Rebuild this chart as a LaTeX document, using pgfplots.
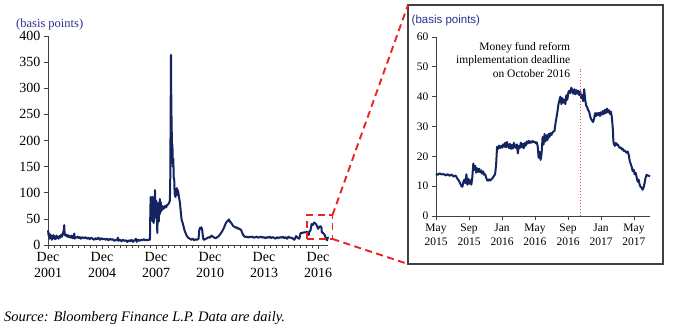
\documentclass[border=0pt]{standalone}
\usepackage{fontspec}
\setmainfont{Liberation Serif}
\newfontfamily\arialfont{Liberation Sans}
\usepackage{pgfplots}
\usepackage{pgfplotstable}
\pgfplotsset{compat=1.18}
\definecolor{navy}{RGB}{20,36,96}
\definecolor{lblblue}{RGB}{45,45,150}
\definecolor{dred}{RGB}{235,35,35}
\definecolor{lred}{RGB}{240,70,70}

% x = calendar year (decimal); plotted as years after 2000
\pgfplotstableread{
x y
2001.92 28
2001.95 18
2001.98 22
2002.01 12
2002.04 20
2002.07 14
2002.10 18
2002.13 10
2002.16 16
2002.19 12
2002.22 19
2002.25 13
2002.28 17
2002.31 11
2002.34 15
2002.37 12
2002.40 18
2002.43 14
2002.46 16
2002.50 12
2002.55 17
2002.60 14
2002.65 20
2002.70 16
2002.75 22
2002.80 30
2002.82 38
2002.84 22
2002.88 18
2002.93 20
2002.98 16
2003.03 19
2003.08 15
2003.13 17
2003.18 14
2003.23 18
2003.28 13
2003.33 16
2003.38 22
2003.40 12
2003.45 15
2003.50 14
2003.56 16
2003.62 13
2003.68 15
2003.74 12
2003.80 15
2003.86 14
2003.92 13
2004.00 15
2004.08 12
2004.16 14
2004.24 11
2004.32 14
2004.40 12
2004.48 10
2004.56 13
2004.64 11
2004.72 14
2004.80 10
2004.88 13
2004.96 11
2005.04 12
2005.12 10
2005.20 12
2005.28 9
2005.36 12
2005.44 10
2005.52 11
2005.60 8
2005.68 10
2005.76 9
2005.80 14
2005.84 8
2005.92 10
2006.00 7
2006.08 10
2006.16 8
2006.24 9
2006.32 6
2006.40 9
2006.48 7
2006.56 10
2006.64 6
2006.72 9
2006.80 12
2006.84 6
2006.92 10
2007.00 8
2007.08 10
2007.16 9
2007.24 11
2007.32 9
2007.40 10
2007.48 9
2007.55 11
2007.58 10
2007.60 60
2007.62 92
2007.64 55
2007.66 80
2007.69 48
2007.71 92
2007.73 45
2007.76 70
2007.79 42
2007.81 75
2007.84 88
2007.86 105
2007.88 70
2007.90 52
2007.93 85
2007.96 60
2007.99 23
2008.01 55
2008.04 80
2008.07 45
2008.10 65
2008.13 88
2008.15 60
2008.18 82
2008.21 65
2008.25 75
2008.29 68
2008.32 73
2008.36 70
2008.42 75
2008.48 72
2008.54 77
2008.60 78
2008.66 82
2008.69 86
2008.71 130
2008.73 250
2008.75 364
2008.76 300
2008.78 240
2008.80 200
2008.81 180
2008.83 192
2008.85 150
2008.88 165
2008.90 130
2008.93 124
2008.95 100
2008.97 95
2009.00 92
2009.04 100
2009.07 109
2009.10 96
2009.13 105
2009.16 100
2009.20 90
2009.25 80
2009.30 61
2009.34 48
2009.40 42
2009.45 35
2009.50 28
2009.56 23
2009.62 18
2009.70 14
2009.80 12
2009.88 10
2009.96 12
2010.04 9
2010.12 11
2010.20 10
2010.28 12
2010.32 28
2010.36 33
2010.40 31
2010.44 34
2010.48 30
2010.51 20
2010.55 11
2010.60 10
2010.68 12
2010.76 13
2010.84 15
2010.92 14
2011.00 18
2011.08 16
2011.16 14
2011.24 13
2011.32 15
2011.40 17
2011.47 20
2011.55 24
2011.62 28
2011.68 32
2011.74 37
2011.80 42
2011.86 45
2011.92 46
2011.97 49
2012.02 45
2012.08 43
2012.14 40
2012.21 36
2012.28 35
2012.34 33
2012.40 34
2012.46 31
2012.52 32
2012.58 30
2012.64 29
2012.70 24
2012.76 19
2012.82 17
2012.88 15
2012.96 16
2013.04 14
2013.12 16
2013.20 15
2013.28 16
2013.36 14
2013.44 15
2013.52 16
2013.60 14
2013.68 15
2013.76 16
2013.84 14
2013.92 15
2014.00 13
2014.08 15
2014.16 14
2014.24 16
2014.32 13
2014.40 15
2014.48 14
2014.56 12
2014.64 15
2014.72 13
2014.80 15
2014.88 14
2014.96 16
2015.04 13
2015.12 15
2015.20 12
2015.28 16
2015.33 14
2015.40 14
2015.50 13
2015.60 10
2015.65 13
2015.70 17
2015.76 15
2015.82 13
2015.88 12
2015.95 23
2016.04 23
2016.12 24
2016.20 24
2016.28 25
2016.36 24
2016.40 19
2016.44 26
2016.50 28
2016.56 40
2016.62 38
2016.70 43
2016.78 41
2016.84 38
2016.92 31
2017.00 35
2017.06 36
2017.11 33
2017.13 24
2017.20 23
2017.28 20
2017.34 14
2017.42 9
2017.46 14
2017.495 13
}\longdata

\pgfplotstableread{
x y
2015.333 14.2
2015.35 13.8
2015.37 14.3
2015.39 13.9
2015.41 14.1
2015.43 13.6
2015.45 14.0
2015.47 13.5
2015.49 13.9
2015.51 13.2
2015.53 13.6
2015.55 12.5
2015.57 11.5
2015.59 10.0
2015.60 9.8
2015.61 11.5
2015.62 12.2
2015.63 11.0
2015.64 14.0
2015.65 10.5
2015.66 12.5
2015.67 10.8
2015.68 12.0
2015.69 10.5
2015.70 13.0
2015.71 17.6
2015.72 15.5
2015.73 16.8
2015.74 14.5
2015.75 16.0
2015.76 14.8
2015.77 15.8
2015.78 14.6
2015.79 15.3
2015.80 14.2
2015.81 14.9
2015.82 13.8
2015.83 14.0
2015.84 12.8
2015.85 12.0
2015.86 11.8
2015.87 12.3
2015.88 11.9
2015.89 12.2
2015.90 12.6
2015.91 13.0
2015.92 13.5
2015.93 14.0
2015.94 17.0
2015.95 23.2
2015.96 22.5
2015.97 23.6
2015.98 22.8
2015.99 23.5
2016.00 22.9
2016.01 24.0
2016.02 23.2
2016.03 24.5
2016.04 23.0
2016.05 24.8
2016.06 23.5
2016.07 22.8
2016.08 24.2
2016.09 22.5
2016.10 23.8
2016.11 22.6
2016.12 24.5
2016.13 23.4
2016.14 22.8
2016.15 24.0
2016.16 21.0
2016.17 23.5
2016.18 22.8
2016.19 24.6
2016.20 23.0
2016.21 24.2
2016.22 22.7
2016.23 24.5
2016.24 23.6
2016.25 25.0
2016.26 24.3
2016.27 25.2
2016.28 24.5
2016.29 25.0
2016.30 24.6
2016.31 25.1
2016.32 24.8
2016.33 24.9
2016.34 24.4
2016.35 24.7
2016.36 23.5
2016.37 19.5
2016.38 21.5
2016.39 18.8
2016.40 21.0
2016.41 26.5
2016.42 24.0
2016.43 27.5
2016.44 25.0
2016.45 27.0
2016.46 25.5
2016.47 27.5
2016.48 26.5
2016.49 27.8
2016.50 27.2
2016.51 28.0
2016.52 28.3
2016.53 28.5
2016.54 31.0
2016.55 33.0
2016.56 35.0
2016.57 37.5
2016.58 38.8
2016.59 40.0
2016.60 37.5
2016.61 39.5
2016.62 38.0
2016.63 39.0
2016.64 37.5
2016.65 40.5
2016.66 39.0
2016.67 41.5
2016.68 42.0
2016.69 41.2
2016.70 43.0
2016.71 42.0
2016.72 41.0
2016.73 42.5
2016.74 40.8
2016.75 42.2
2016.76 41.0
2016.77 42.0
2016.78 40.5
2016.79 41.8
2016.80 39.5
2016.81 40.5
2016.82 38.5
2016.83 42.5
2016.84 39.0
2016.85 37.0
2016.86 36.5
2016.87 35.5
2016.88 35.0
2016.89 33.5
2016.90 32.5
2016.91 32.0
2016.92 31.5
2016.93 32.5
2016.94 34.5
2016.95 33.5
2016.96 34.5
2016.97 33.8
2016.98 34.6
2016.99 33.5
2017.00 34.8
2017.01 34.0
2017.02 35.2
2017.03 34.2
2017.04 35.6
2017.05 34.5
2017.06 36.0
2017.07 34.8
2017.08 35.5
2017.09 34.2
2017.10 35.0
2017.11 33.0
2017.12 29.0
2017.125 25.0
2017.13 24.2
2017.14 23.5
2017.15 24.5
2017.16 23.8
2017.17 24.0
2017.18 23.2
2017.19 22.8
2017.20 23.0
2017.21 22.3
2017.22 22.5
2017.23 21.8
2017.24 22.0
2017.25 21.5
2017.26 21.2
2017.27 21.6
2017.28 20.5
2017.29 18.5
2017.30 17.5
2017.31 16.5
2017.32 15.0
2017.33 15.5
2017.34 14.0
2017.35 14.5
2017.36 13.0
2017.37 11.5
2017.38 12.2
2017.39 10.5
2017.40 9.8
2017.41 9.5
2017.42 8.8
2017.43 9.5
2017.44 11.0
2017.45 12.8
2017.46 13.8
2017.47 13.6
2017.48 13.5
2017.495 13.3
}\shortdata

\begin{document}
\begin{tikzpicture}

\path[use as bounding box] (0pt,0pt) rectangle (677pt,335pt);

\pgfplotsset{
  common/.style={
    scale only axis,
    axis x line*=bottom, axis y line*=left,
    axis line style={black!75, line width=0.8pt},
    tick style={black!75, line width=0.7pt},
    major tick length=4pt, minor tick length=2.5pt,
    /pgf/number format/assume math mode=true,
    xticklabel style={align=center},
    tick align=outside,
    clip=false,
  }
}

\begin{axis}[common,
  at={(48pt,90pt)}, anchor=south west,
  width=279.6pt, height=209pt,
  xmin=1.917, xmax=17.45, ymin=0, ymax=400,
  ytick={0,50,...,400},
  xtick={1.917,4.917,7.917,10.917,13.917,16.917},
  xticklabels={{Dec\\2001},{Dec\\2004},{Dec\\2007},{Dec\\2010},{Dec\\2013},{Dec\\2016}},
  minor x tick num=8,
  xticklabel style={font=\fontsize{14}{16}\selectfont},
  yticklabel style={font=\fontsize{14}{16}\selectfont},
]
\addplot[navy, line width=2pt, line join=round] table[x expr=\thisrow{x}-2000, y=y] {\longdata};
\end{axis}

\begin{axis}[common,
  at={(436pt,119pt)}, anchor=south west,
  width=214pt, height=179pt,
  xmin=15.333, xmax=17.495, ymin=0, ymax=60,
  ytick={0,10,...,60},
  xtick={15.333,15.667,16.0,16.333,16.667,17.0,17.333},
  xticklabels={{May\\2015},{Sep\\2015},{Jan\\2016},{May\\2016},{Sep\\2016},{Jan\\2017},{May\\2017}},
  xticklabel style={font=\fontsize{11.5}{14}\selectfont},
  yticklabel style={font=\fontsize{11.5}{13}\selectfont},
]
\addplot[navy, line width=2pt, line join=round] table[x expr=\thisrow{x}-2000, y=y] {\shortdata};
\draw[lred, line width=1.4pt, dash pattern=on 1.4pt off 1.6pt] (axis cs:16.79,0) -- (axis cs:16.79,49.3);
\node[align=right, anchor=north east, inner sep=0pt, font=\fontsize{11.5}{13.5}\selectfont]
  at (axis cs:16.69,58.4) {Money fund reform\\implementation deadline\\on October 2016};
\end{axis}

\draw[black!75, line width=1.1pt] (408pt,71pt) rectangle (663pt,330pt);
\draw[dred, line width=1.9pt, dash pattern=on 7pt off 4.5pt] (307pt,96pt) rectangle (332.5pt,120pt);
\draw[dred, line width=1.9pt, dash pattern=on 7pt off 4.5pt] (332.5pt,120pt) -- (408pt,330pt);
\draw[dred, line width=1.9pt, dash pattern=on 7pt off 4.5pt] (332.5pt,96pt) -- (408pt,71pt);

\node[anchor=west, inner sep=0pt, font=\fontsize{12.5}{14}\selectfont, text=lblblue] at (16pt,311pt) {(basis points)};
\node[anchor=west, inner sep=0pt, font=\arialfont\fontsize{11.5}{13}\selectfont, text=lblblue] at (411.5pt,314pt) {(basis points)};
\node[anchor=base west, inner sep=0pt, font=\itshape\fontsize{14.5}{16}\selectfont] at (4pt,13.3pt) {Source: Bloomberg Finance L.P. Data are daily.};
\end{tikzpicture}
\end{document}
